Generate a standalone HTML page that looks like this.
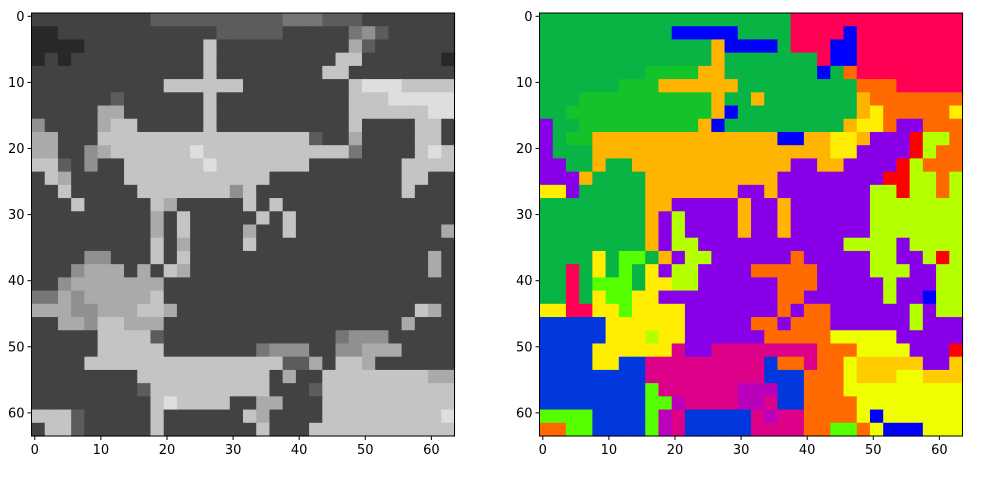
<!DOCTYPE html>
<html><head><meta charset="utf-8">
<style>
html,body{margin:0;padding:0;background:#fff;}
svg{display:block;font-family:"DejaVu Sans","Liberation Sans",sans-serif;}
</style></head>
<body>
<svg id="fig" width="1000" height="479" viewBox="0 0 1000 479" xmlns="http://www.w3.org/2000/svg"></svg>
<script>
// ---- data: 32x32 coarse grids (each cell = 2x2 image pixels of a 64x64 image) ----
const grayRows = [
"22222222233333333334443332222222",
"11222222222222333332222245322222",
"11112222222227222222222263222222",
"12122222222227222222222772222221",
"22222222222227222222227722222222",
"22222222227777772222222278887777",
"22222232222227222222222277788888",
"22222662222227222222222277777788",
"52222677222227222222222272222772",
"66222777777777777777732262222772",
"66225677777787777777777742222787",
"77325227777778777777722222227777",
"27622227777777777722222222227722",
"22722222777777757222222222227222",
"22272222276222227272222222222222",
"22222222262722222727222222222222",
"22222222262722226227222222222226",
"22222222272622227222222222222222",
"22225522272722222222222222222262",
"22256662627622222222222222222262",
"22566666662222222222222222222222",
"44656666672222222222222222222222",
"66655666776222222222222222222762",
"22665776662222222222222222226222",
"22222777732222222222222455522222",
"22222777772222222455522556662222",
"22227777777777777773362776222222",
"22222222777777777726227777777766",
"22222222377777777722237777777777",
"22222222278777722662227777777777",
"77732222272222227622227777777778",
"27732222272222222722277777777777"
];
const segRows = [
"GGGGGGGGGGGGGGGGGGGRRRRRRRRRRRRR",
"GGGGGGGGGGBBBBBGGGGRRRRBRRRRRRRR",
"GGGGGGGGGGGGGOBBBBGRRRBBRRRRRRRR",
"GGGGGGGGGGGGGOGGGGGGGRBBRRRRRRRR",
"GGGGGGGGggggOOGGGGGGGBGoRRRRRRRR",
"GGGGGGgggOOOOOOGGGGGGGGGoooRRRRR",
"GGGggggggggggOGGOGGGGGGGOooooooo",
"GGgggggggggggOBGGGGGGGGGOYoooooY",
"PGGgggggggggOBGGGGGGGGGOYYoPPooo",
"PGggOOOOOOOOOOOOOOBBOOYYOPPPrLLo",
"PGGGOOOOOOOOOOOOOOOOOOYYPPPPrLoo",
"PPGGOGGOOOOOOOOOOOOPPOOPPPPrLooo",
"PPPOGGGGOOOOOOOOOOPPPPPPPPrrLLoL",
"YYPGGGGGOOOOOOOPPOPPPPPPPLLrLLoL",
"GGGGGGGGOOPPPPPOPPOPPPPPPLLLLLLL",
"GGGGGGGGOPLPPPPOPPOPPPPPPLLLLLLL",
"GGGGGGGGOPLPPPPOPPOPPPPPPLLLLLLL",
"GGGGGGGGOPLLPPPPPPPPPPPLLLLPLLLL",
"GGGGYGNNGOPLLPPPPPPoPPPPPLLPPLrL",
"GGRGYGNGYPLLPPPPoooooPPPPLLLPPLL",
"GGRGNNNGYYLLPPPPPPoooPPPPPLPPPLL",
"GGRGYNNYYPPPPPPPPPooPPPPPPLPPBLL",
"YYRRYYNYYYYPPPPPPPoPooPPPPPPLPLL",
"bbbbbYYYYYYPPPPPooPoooPPPPPPLPPP",
"bbbbbYYYLYYPPPPPPoooooyyyyyPPPPP",
"bbbbYYYYYYMPPMMMMMMMMoooyyyyPPPr",
"bbbbYYbbMMMMMMMMMbooMooyKKKKKPPK",
"bbbbbbbbMMMMMMMMMbbboooyKKKyyKKK",
"bbbbbbbbNMMMMMMmmmbboooyyyyyyyyy",
"bbbbbbbbNNmMMMMmmMbbooooyyyyyyyy",
"NNNNbbbbNmMbbbbbMmMMooooyByyyyyy",
"ooNNbbbbNmMbbbbbMMMMooNNoyBBByyy"
];
const segCodes = ["G","g","O","P","R","o","B","b","Y","L","M","y","N","r","K","m"];
const segColors = ["#08b444","#14c22a","#ffb400","#8800e8","#ff0055","#ff6a00","#0000ff","#0038dd","#ffee00","#b4ff00","#dd0088","#f0ff00","#55ff00","#ff0000","#ffcc00","#bb00bb"];
const tickValues = [0,10,20,30,40,50,60];
const tickLabels = ["0","10","20","30","40","50","60"];

// ---- layout ----
const NS = "http://www.w3.org/2000/svg";
const svg = document.getElementById("fig");
const N = 64, CELL = 2;
const axesL = {left:31.5, top:13, size:423, name:"grayscale-image"};
const axesR = {left:539.5, top:13, size:423, name:"segmentation-image"};
function mk(tag, attrs, parent){
  const e = document.createElementNS(NS, tag);
  for (const k in attrs) e.setAttribute(k, attrs[k]);
  (parent||svg).appendChild(e);
  return e;
}
function xScale(ax, v){ return ax.left + (v + 0.5) * ax.size / N; }
function yScale(ax, v){ return ax.top + (v + 0.5) * ax.size / N; }

function drawGrid(ax, rows, colorOf){
  const g = mk("g", {});
  
  
  const cw = ax.size / N;
  rows.forEach((row, r) => {
    for (let c = 0; c < row.length; c++) {
      const x0 = xScale(ax, c*CELL - 0.5), y0 = yScale(ax, r*CELL - 0.5);
      const rect = mk("rect", {x:x0.toFixed(2), y:y0.toFixed(2), width:(cw*CELL+0.6).toFixed(2), height:(cw*CELL+0.6).toFixed(2), fill:colorOf(row[c])}, g);
      
      
    }
  });
  return g;
}
function drawAxes(ax, prefix){
  const frame = mk("rect", {x:ax.left, y:ax.top, width:ax.size, height:ax.size, fill:"none", stroke:"#000", "stroke-width":1});
  
  
  tickValues.forEach((v, i) => {
    const x = xScale(ax, v), y = yScale(ax, v);
    const bottom = ax.top + ax.size;
    const xt = mk("line", {x1:x, x2:x, y1:bottom, y2:bottom+4, stroke:"#000", "stroke-width":1});
    
    
    const xl = mk("text", {x:x, y:bottom+18, "text-anchor":"middle", "font-size":"13", fill:"#000"});
    xl.textContent = tickLabels[i];
    
    
    const yt = mk("line", {x1:ax.left-4, x2:ax.left, y1:y, y2:y, stroke:"#000", "stroke-width":1});
    
    
    const yl = mk("text", {x:ax.left-7, y:y+4.5, "text-anchor":"end", "font-size":"13", fill:"#000"});
    yl.textContent = tickLabels[i];
    
    
  });
}
function grayOf(ch){
  const d = parseInt(ch, 10);
  const v = Math.min(255, Math.round(14 + d * 26));
  return "rgb(" + v + "," + v + "," + v + ")";
}
function segOf(ch){
  const i = segCodes.indexOf(ch);
  return i >= 0 ? segColors[i] : "#08b444";
}
drawGrid(axesL, grayRows, grayOf);
drawGrid(axesR, segRows, segOf);
drawAxes(axesL, "left");
drawAxes(axesR, "right");
</script>
</body></html>
